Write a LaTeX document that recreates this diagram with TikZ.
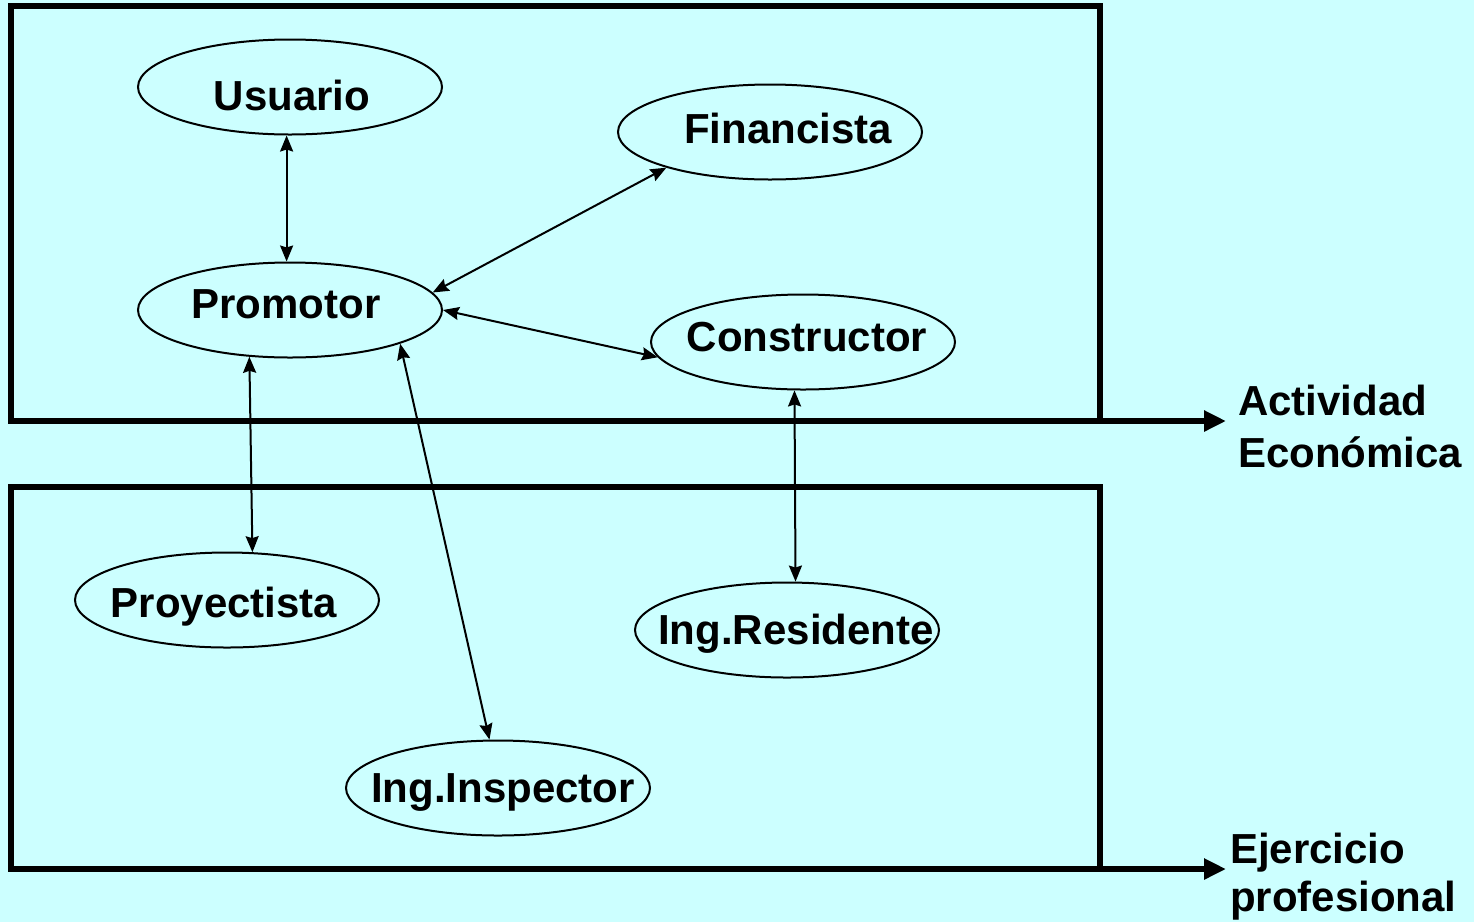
\documentclass[tikz,border=0pt]{standalone}
\usepackage{fontspec}
\setmainfont{Liberation Sans}
\usetikzlibrary{arrows.meta,shapes.geometric}
\definecolor{bgc}{HTML}{CCFFFF}
\tikzset{
  ell/.style={ellipse, draw, line width=2pt, minimum width=304pt, minimum height=95pt, inner sep=0pt},
  lbl/.style={font=\fontsize{42}{48}\selectfont\bfseries, inner sep=0pt, anchor=base},
  side/.style={font=\fontsize{42}{48}\selectfont\bfseries, inner sep=0pt, anchor=base west},
  link/.style={arrows={Stealth[length=16pt,width=13pt,inset=2pt]-Stealth[length=16pt,width=13pt,inset=2pt]}, line width=2pt},
  frame/.style={line width=6pt},
  bigarrow/.style={line width=6pt, arrows={-Triangle[length=22pt,width=20pt]}}
}
\begin{document}
\begin{tikzpicture}[x=1pt,y=-1pt]
\fill[bgc] (0,0) rectangle (1474,922);
\useasboundingbox (0,0) rectangle (1474,922);
% frames
\coordinate (t1) at (11,6);
\coordinate (t2) at (1100,421);
\coordinate (ta) at (1226,421);
\coordinate (b1) at (11,487);
\coordinate (b2) at (1100,869);
\coordinate (ba) at (1226,869);
\draw[frame] (t1) rectangle (t2);
\draw[frame] (b1) rectangle (b2);
\draw[bigarrow] (t2) -- (ta);
\draw[bigarrow] (b2) -- (ba);
% ellipses
\node[ell] (usr) at (290,87) {};
\node[ell] (fin) at (770,132) {};
\node[ell] (pro) at (290,310) {};
\node[ell] (con) at (803,342) {};
\node[ell] (pry) at (227,600) {};
\node[ell] (res) at (787,630) {};
\node[ell] (ins) at (498,788) {};
% texts
\node[lbl] (tusr) at (292,110) {Usuario};
\node[lbl] (tfin) at (788,143) {Financista};
\node[lbl] (tpro) at (286,318) {Promotor};
\node[lbl] (tcon) at (807,351) {Constructor};
\node[lbl] (tpry) at (224,617) {Proyectista};
\node[lbl] (tres) at (796,644) {Ing.Residente};
\node[lbl] (tins) at (503,802) {Ing.Inspector};
\node[side] (a1) at (1238,415) {Actividad};
\node[side] (a2) at (1238,467) {Económica};
\node[side] (e1) at (1230,863) {Ejercicio};
\node[side] (e2) at (1230,911) {profesional};
% connectors
\draw[link] (usr.266) -- (pro.94);
\draw[link] (pro.7) -- (fin.199);
\draw[link] (pro.east) -- (con.186);
\draw[link] (pro.229) -- (pry.62);
\draw[link] (pro.-17) -- (ins.100);
\draw[link] (con.260) -- (res.80);
\end{tikzpicture}
\end{document}
